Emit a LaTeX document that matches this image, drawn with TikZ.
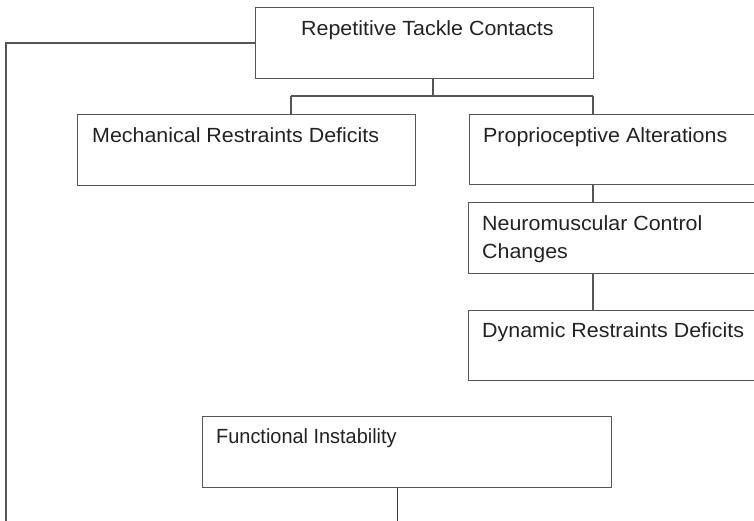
\documentclass[tikz,border=0pt]{standalone}
\usepackage{fontspec}
\setmainfont{Liberation Sans}[FakeStretch=1.045]
\definecolor{edge}{RGB}{85,85,85}
\definecolor{ink}{RGB}{34,34,34}
\begin{document}
\begin{tikzpicture}[x=1pt,y=-1pt,
  box/.style={draw=edge, line width=1.4pt, rectangle, anchor=north west, inner sep=0pt},
  lbl/.style={anchor=base west, inner sep=0pt, text=ink, font=\fontsize{20.5}{28}\selectfont, align=left},
  conn/.style={draw=edge, line width=1.4pt},
  thin/.style={draw=black!80, line width=1pt}]
\useasboundingbox (0,0) rectangle (754,520);
\clip (0,0) rectangle (754,520);
% boxes
\node[box, minimum width=338pt, minimum height=71pt] (top) at (255,7) {};
\node[box, minimum width=338pt, minimum height=71pt] (mech) at (77,114) {};
\node[box, minimum width=300pt, minimum height=70pt] (prop) at (469,114) {};
\node[box, minimum width=300pt, minimum height=71pt] (neuro) at (468,202) {};
\node[box, minimum width=300pt, minimum height=70pt] (dyn) at (468,310) {};
\node[box, minimum width=409pt, minimum height=71pt] (func) at (202,416) {};
% labels
\node[lbl] (topT) at (301,35) {Repetitive Tackle Contacts};
\node[lbl] (mechT) at (92,142) {Mechanical Restraints Deficits};
\node[lbl] (propT) at (483,142) {Proprioceptive Alterations};
\node[lbl] (neuroT) at (482,258) {Neuromuscular Control\\Changes};
\node[lbl] (dynT) at (482,337) {Dynamic Restraints Deficits};
\node[lbl] (funcT) at (216,443) {\scalebox{0.93}[1]{Functional Instability}};
% connectors
\coordinate (leftend) at (6,525);
\coordinate (funcend) at (397,525);
\draw[conn] (top.west |- 0,43) -- (6,43) -- (leftend);
\draw[conn] (433,0 |- top.south) -- (433,96);
\draw[conn] (291,96) -- (593,96);
\draw[conn] (291,96) -- (291,0 |- mech.north);
\draw[conn] (593,96) -- (593,0 |- prop.north);
\draw[conn] (593,0 |- prop.south) -- (593,0 |- neuro.north);
\draw[conn] (593,0 |- neuro.south) -- (593,0 |- dyn.north);
\draw[thin] (397,0 |- func.south) -- (funcend);
\end{tikzpicture}
\end{document}
